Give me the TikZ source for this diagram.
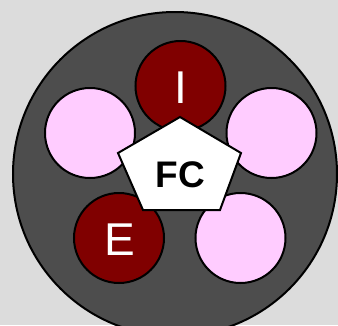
\documentclass[tikz,border=0pt]{standalone}
\usepackage{fontspec}
\setmainfont{Liberation Sans}
\definecolor{bggray}{HTML}{DCDCDC}
\definecolor{cellgray}{HTML}{4D4D4D}
\definecolor{darkred}{HTML}{800000}
\definecolor{lightpink}{HTML}{FFCCFF}
\tikzset{
  ring/.style={draw=black, line width=2pt, circle, minimum size=90pt, inner sep=0pt},
  filled/.style={ring, fill=darkred, text=white, font=\fontsize{46}{46}\selectfont},
  empty/.style={ring, fill=lightpink},
}
\begin{document}
\begin{tikzpicture}[x=1pt, y=-1pt]
\useasboundingbox (0,0) rectangle (338,325);
\clip (0,0) rectangle (338,325);
\fill[bggray] (0,0) rectangle (338,325);

% outer cell
\draw[line width=2pt, fill=cellgray] (175,174) circle (162);

% slots
\node[filled] (inner) at (180.5,86) {};
	\node[text=white, font=\fontsize{46}{46}\selectfont] (innerlabel) at (180.5,88) {I};
\node[empty] (left) at (90,133) {};
\node[empty] (right) at (271.5,133) {};
\node[filled] (outer) at (119,238) {};
	\node[text=white, font=\fontsize{46}{46}\selectfont] (outerlabel) at (119.5,240) {E};
\node[empty] (lowright) at (240.5,238) {};

% centre
\coordinate (p1) at (180,117);
\coordinate (p2) at (241,153);
\coordinate (p3) at (220,210);
\coordinate (p4) at (143,210);
\coordinate (p5) at (118,153);
\draw[line width=2pt, fill=white, line join=miter] (p1) -- (p2) -- (p3) -- (p4) -- (p5) -- cycle;
	\node[font=\bfseries\fontsize{37}{37}\selectfont] (fc) at (180.5,175) {FC};
\end{tikzpicture}
\end{document}
